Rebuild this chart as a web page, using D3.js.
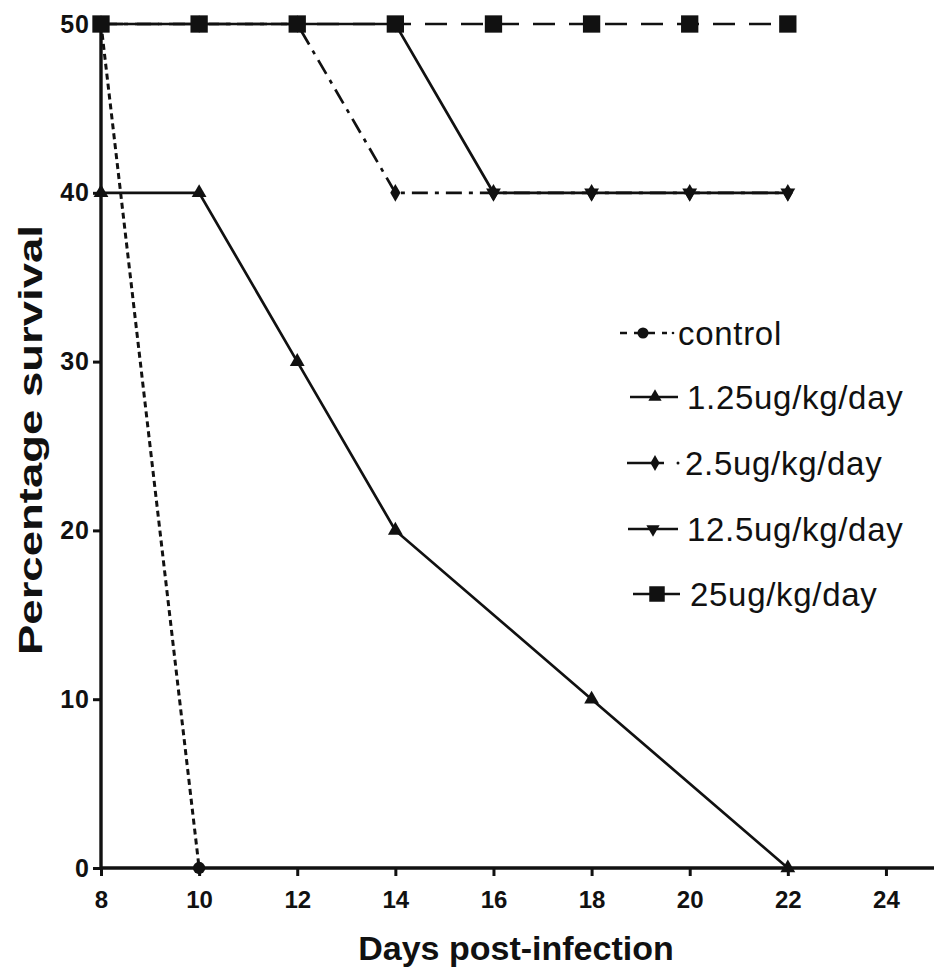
<!DOCTYPE html>
<html><head><meta charset="utf-8">
<script src="https://cdn.jsdelivr.net/npm/d3@7"></script>
<style>body{margin:0;background:#fff}svg{display:block}</style>
</head><body>
<svg id="c" width="934" height="975"></svg>
<script>
const days = [8,10,12,14,16,18,20,22];
const xTicks = [8,10,12,14,16,18,20,22,24];
const yTicks = [0,10,20,30,40,50];
const seriesNames = ["control","1.25ug/kg/day","2.5ug/kg/day","12.5ug/kg/day","25ug/kg/day"];
const controlDays = [8,10];
const controlVals = [50,0];
const s125Days = [8,10,12,14,18,22];
const s125Vals = [40,40,30,20,10,0];
const s25Vals = [50,50,50,40,40,40,40,40];
const s125hVals = [50,50,50,50,40,40,40,40];
const s25hVals = [50,50,50,50,50,50,50,50];

const series = [
  {name:seriesNames[0], xs:controlDays, ys:controlVals, sym:"circle", dash:"6,4", w:3},
  {name:seriesNames[1], xs:s125Days, ys:s125Vals, sym:"tri", dash:null, w:2.7},
  {name:seriesNames[2], xs:days, ys:s25Vals, sym:"diamond", dash:"16,7,4,7", w:2.7},
  {name:seriesNames[3], xs:days, ys:s125hVals, sym:"itri", dash:null, w:2.7},
  {name:seriesNames[4], xs:days, ys:s25hVals, sym:"square", dash:"22,14", w:2.7}
];

const FONT = "Liberation Sans, Arial, sans-serif";
const svg = d3.select("#c");
const x = d3.scaleLinear().domain([8,25]).range([101,935]);
const y = d3.scaleLinear().domain([0,50]).range([868,24]);

function symPath(t, k){
  k = k || 1;
  switch(t){
    case "circle": return d3.symbol(d3.symbolCircle,120*k)();
    case "tri": return d3.symbol(d3.symbolTriangle,95*k)();
    case "itri": return d3.symbol(d3.symbolTriangle,95*k)();
    case "diamond": return d3.symbol(d3.symbolDiamond,90*k)();
    case "square": return d3.symbol(d3.symbolSquare,300*k)();
  }
}
function symTransform(t,px,py){
  return t==="itri" ? `translate(${px},${py}) rotate(180)` : `translate(${px},${py})`;
}

// axes
const xAxis = d3.axisBottom(x).tickValues(xTicks).tickSize(8).tickPadding(15).tickFormat(d3.format("d"));
const yAxis = d3.axisLeft(y).tickValues(yTicks).tickSize(8).tickPadding(3).tickFormat(d3.format("d"));
const gx = svg.append("g").attr("transform",`translate(0,${y(0)})`).call(xAxis).attr("font-size",24);
const gy = svg.append("g").attr("transform",`translate(${x(8)},0)`).call(yAxis).attr("font-size",25);
[gx,gy].forEach(g=>{
  g.attr("font-family",FONT).attr("font-weight","bold");
  g.select(".domain").attr("stroke","#111").attr("stroke-width",3.4);
  g.selectAll(".tick line").attr("stroke","#111").attr("stroke-width",3);
  g.selectAll(".tick text").attr("fill","#111");
});
gy.selectAll(".tick text").attr("letter-spacing","1px");
gx.select(".domain").attr("d",`M${x(8)},0H${x(25)}`);
gy.select(".domain").attr("d",`M0,${y(0)}V${y(50)}`);

// lines
const line = d3.line().x(d=>x(d[0])).y(d=>y(d[1]));
series.forEach(s=>{
  const pts = s.xs.map((d,i)=>[d,s.ys[i]]);
  svg.append("path").attr("d",line(pts)).attr("fill","none").attr("stroke","#111")
    .attr("stroke-width",s.w).attr("stroke-dasharray",s.dash);
});
series.forEach(s=>{
  s.xs.forEach((d,i)=>{
    svg.append("path").attr("d",symPath(s.sym)).attr("transform",symTransform(s.sym,x(d),y(s.ys[i])))
      .attr("fill","#111");
  });
});

// legend
const legY = [333,397,463,529,594];
const legText = [678,687,685,687,690];
const legX1 = [620,630,627,628,633];
const legX2 = [667,678,664,678,680];
const legM = [643,655,655,653,657];
const legDash = ["7,7",null,null,null,null];
series.forEach((s,i)=>{
  const cy = legY[i];
  svg.append("line").attr("x1",legX1[i]).attr("x2",legX2[i]).attr("y1",cy).attr("y2",cy)
    .attr("stroke","#111").attr("stroke-width",2.6).attr("stroke-dasharray",legDash[i]);
  if(s.sym==="diamond"){
    svg.append("circle").attr("cx",678).attr("cy",cy).attr("r",1.5).attr("fill","#111");
  }
  if(s.sym==="circle"){
    svg.append("circle").attr("cx",673).attr("cy",cy).attr("r",1.3).attr("fill","#111");
  }
  svg.append("path").attr("d",symPath(s.sym,0.8)).attr("transform",symTransform(s.sym,legM[i],cy)).attr("fill","#111");
  svg.append("text").attr("x",legText[i]).attr("y",cy+12).text(s.name)
    .attr("font-family",FONT).attr("font-size",33)
    .attr("letter-spacing","0.7px").attr("fill","#111");
});

// titles
svg.append("text").attr("x",516).attr("y",960).attr("text-anchor","middle").text("Days post-infection")
  .attr("font-family",FONT).attr("font-weight","bold").attr("font-size",34).attr("fill","#111");
svg.append("text").attr("transform","translate(42,440) rotate(-90)").attr("text-anchor","middle").text("Percentage survival")
  .attr("font-family",FONT).attr("font-weight","bold").attr("font-size",34).attr("fill","#111")
  .attr("textLength",430).attr("lengthAdjust","spacingAndGlyphs");
</script>
</body></html>
